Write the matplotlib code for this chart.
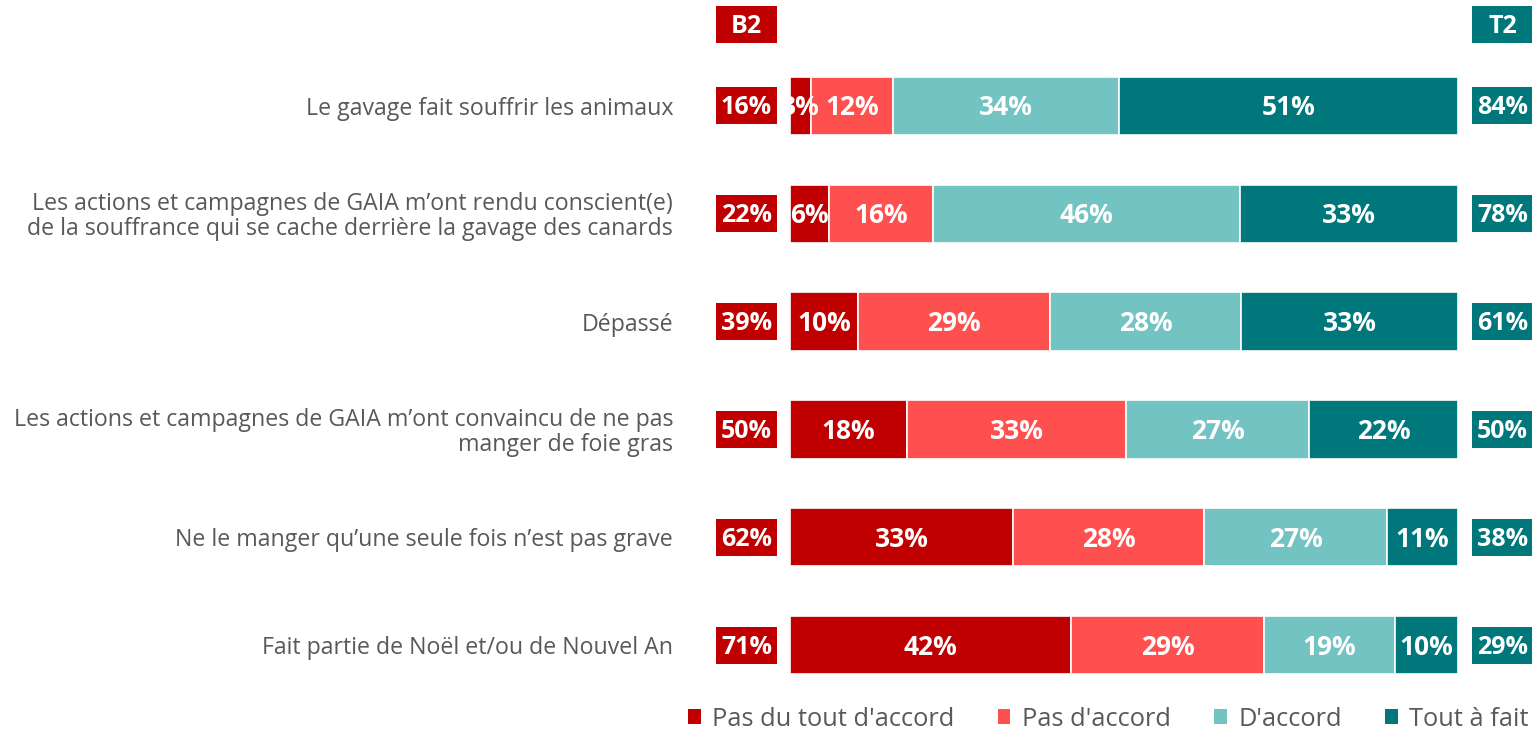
import matplotlib
matplotlib.use("Agg")
import matplotlib.pyplot as plt
from matplotlib.patches import Rectangle, Patch

plt.rcParams['font.family'] = ['Open Sans', 'DejaVu Sans']

categories = [
    "Le gavage fait souffrir les animaux",
    "Les actions et campagnes de GAIA m\u2019ont rendu conscient(e)\nde la souffrance qui se cache derri\u00e8re la gavage des canards",
    "D\u00e9pass\u00e9",
    "Les actions et campagnes de GAIA m\u2019ont convaincu de ne pas\nmanger de foie gras",
    "Ne le manger qu\u2019une seule fois n\u2019est pas grave",
    "Fait partie de No\u00ebl et/ou de Nouvel An",
]
series_names = ["Pas du tout d'accord", "Pas d'accord", "D'accord", "Tout \u00e0 fait d'accord"]
pas_du_tout = [3.1, 5.8, 10.2, 17.5, 33.4, 42.0]
pas_daccord = [12.3, 15.6, 28.7, 32.8, 28.6, 29.0]
daccord = [33.8, 46.0, 28.6, 27.4, 27.4, 19.5]
tout_a_fait = [50.8, 32.6, 32.5, 22.3, 10.6, 9.5]
bar_labels = [
    ["3%", "12%", "34%", "51%"],
    ["6%", "16%", "46%", "33%"],
    ["10%", "29%", "28%", "33%"],
    ["18%", "33%", "27%", "22%"],
    ["33%", "28%", "27%", "11%"],
    ["42%", "29%", "19%", "10%"],
]
b2_labels = ["16%", "22%", "39%", "50%", "62%", "71%"]
t2_labels = ["84%", "78%", "61%", "50%", "38%", "29%"]

colors = ["#C00000", "#FF5050", "#72C3C1", "#00777B"]

W, H = 1532, 731
fig = plt.figure(figsize=(W / 100, H / 100), dpi=100)
left_px, right_px = 790, 1458
top_px, bot_px = 52, 699
ax = fig.add_axes([left_px / W, 1 - bot_px / H, (right_px - left_px) / W, (bot_px - top_px) / H])
ax.set_xlim(0, 100)
ax.set_ylim(len(categories) - 0.5, -0.5)
ax.axis('off')

px_x = 100 / (right_px - left_px)
px_y = len(categories) / (bot_px - top_px)
txt_dy = 2 * px_y

series = [pas_du_tout, pas_daccord, daccord, tout_a_fait]
ypos = list(range(len(categories)))
lefts = [0.0] * len(categories)
for si, vals in enumerate(series):
    ax.barh(ypos, vals, left=lefts, height=0.54, color=colors[si],
            edgecolor='white', linewidth=1.2, zorder=2)
    for i, v in enumerate(vals):
        ax.text(lefts[i] + v / 2, i + txt_dy, bar_labels[i][si], ha='center', va='center',
                color='white', fontsize=19, fontweight='bold', zorder=3, clip_on=False)
    lefts = [l + v for l, v in zip(lefts, vals)]

box_w = 61 * px_x
box_h = 37 * px_y
b2_x = (746.5 - left_px) * px_x
t2_x = (1502.5 - left_px) * px_x


def box(x, y, text, color):
    ax.add_patch(Rectangle((x - box_w / 2, y - box_h / 2), box_w, box_h,
                           facecolor=color, edgecolor='none', clip_on=False, zorder=2))
    ax.text(x, y + txt_dy, text, ha='center', va='center', color='white', fontsize=18,
            fontweight='bold', clip_on=False, zorder=3)


head_y = (25 - 106) * px_y
box(b2_x, head_y, "B2", colors[0])
box(t2_x, head_y, "T2", colors[3])
for i in ypos:
    box(b2_x, i, b2_labels[i], colors[0])
    box(t2_x, i, t2_labels[i], colors[3])
    ax.text((673 - left_px) * px_x, i + 3 * px_y, categories[i], ha='right', va='center',
            color='#595959', fontsize=16.7, linespacing=1.05, clip_on=False)

handles = [Patch(facecolor=c, edgecolor='none') for c in colors]
fig.legend(handles, series_names, ncol=4, loc='center left',
           bbox_to_anchor=(688 / W, 1 - 719 / H), frameon=False,
           fontsize=18.3, handlelength=0.5, handleheight=0.5, handletextpad=0.45,
           columnspacing=1.7, labelcolor='#595959', borderaxespad=0, borderpad=0)

fig.savefig("out.png", dpi=100)
